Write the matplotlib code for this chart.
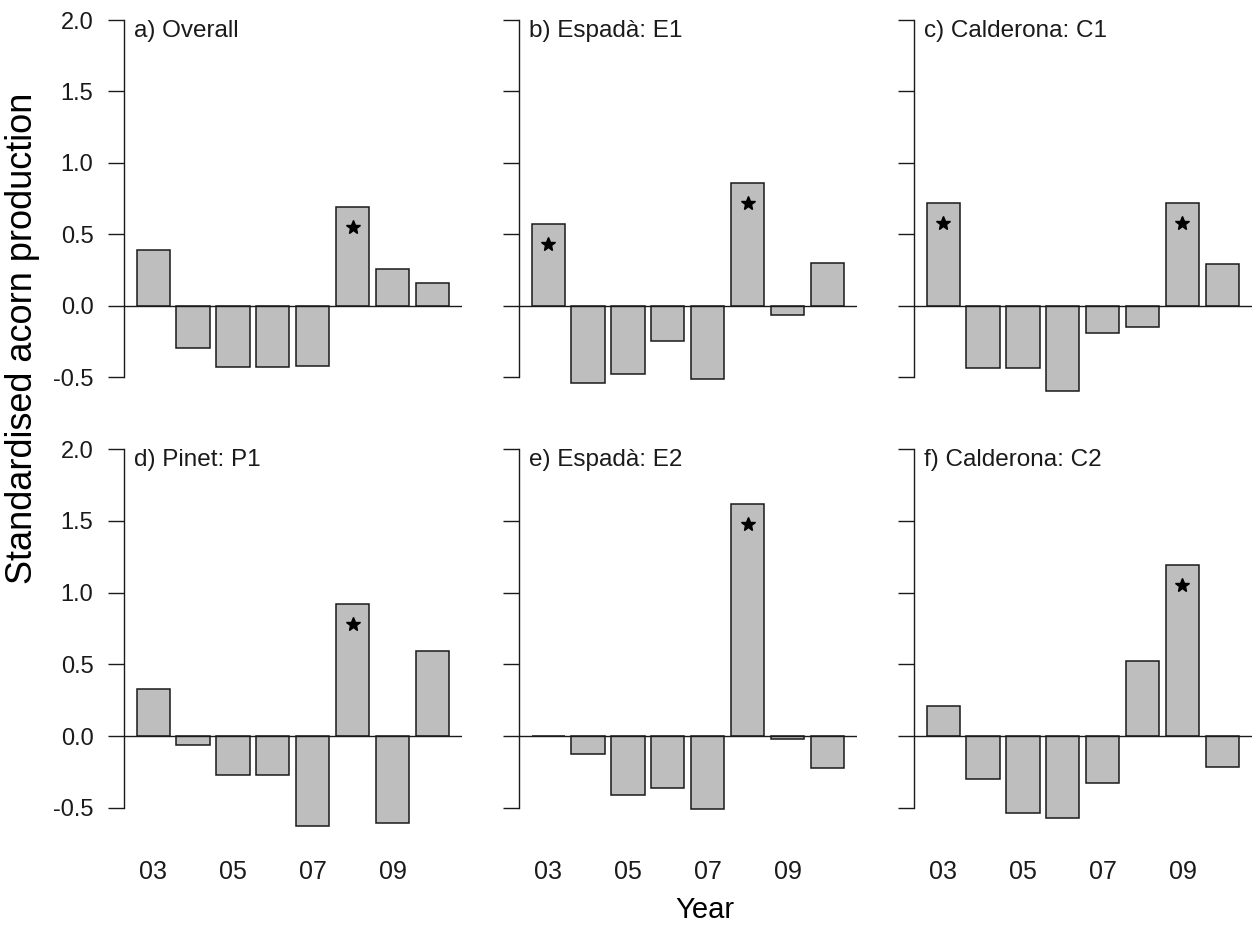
import matplotlib
matplotlib.use("Agg")
import matplotlib.pyplot as plt
import numpy as np

plt.rcParams["font.family"] = ["Liberation Sans", "DejaVu Sans"]

# ── data ──────────────────────────────────────────────────────────────────────
years = ["03", "04", "05", "06", "07", "08", "09", "10"]
shown_years = ["03", "05", "07", "09"]

overall      = [0.39, -0.30, -0.43, -0.43, -0.42, 0.69, 0.26, 0.16]
espada_e1    = [0.57, -0.545, -0.48, -0.25, -0.515, 0.86, -0.065, 0.30]
calderona_c1 = [0.72, -0.44, -0.44, -0.60, -0.19, -0.15, 0.72, 0.295]
pinet_p1     = [0.33, -0.065, -0.27, -0.27, -0.63, 0.92, -0.605, 0.59]
espada_e2    = [0.0, -0.125, -0.41, -0.36, -0.51, 1.62, -0.02, -0.225]
calderona_c2 = [0.21, -0.30, -0.54, -0.575, -0.33, 0.52, 1.19, -0.215]

titles = ["a) Overall", "b) Espadà: E1", "c) Calderona: C1",
          "d) Pinet: P1", "e) Espadà: E2", "f) Calderona: C2"]
series = [overall, espada_e1, calderona_c1, pinet_p1, espada_e2, calderona_c2]
# years flagged with an asterisk (masting years)
starred = [["08"], ["03", "08"], ["03", "09"], ["08"], ["08"], ["09"]]

# ── layout (R barplot look) ───────────────────────────────────────────────────
W, H = 1253, 927
BAR_FILL = "#BEBEBE"
INK = "#1a1a1a"
XLIM = (-0.176, 9.976)
YLIM = (-0.7, 2.05)

col_left = [124, 519, 914]
col_w = 337.5
row_box = [(12.9, 405.6), (442.1, 836.4)]   # top / bottom pixel of each row

fig = plt.figure(figsize=(W / 100, H / 100), dpi=100)
fig.patch.set_facecolor("white")

x = 0.7 + 1.2 * np.arange(len(years))

for k, (vals, title, stars) in enumerate(zip(series, titles, starred)):
    r, c = divmod(k, 3)
    top, bot = row_box[r]
    ax = fig.add_axes([col_left[c] / W, 1 - bot / H, col_w / W, (bot - top) / H])
    ax.set_xlim(*XLIM)
    ax.set_ylim(*YLIM)
    ax.patch.set_alpha(0)

    ax.bar(x, vals, width=1.0, color=BAR_FILL, edgecolor=INK, linewidth=1.1, zorder=2)
    ax.axhline(0, color=INK, lw=1.0, zorder=3)

    for yr in stars:
        i = years.index(yr)
        ax.plot(x[i], vals[i] - 0.14, marker="*", ms=10, color="black",
                mec="black", zorder=4)

    ax.text(0.12, 1.88, title, fontsize=17.5, color=INK, va="baseline", ha="left")

    for s in ("top", "right", "bottom"):
        ax.spines[s].set_visible(False)
    ax.spines["left"].set_bounds(-0.5, 2.0)
    ax.spines["left"].set_color(INK)
    ax.spines["left"].set_linewidth(1.0)

    ax.set_yticks(np.arange(-0.5, 2.01, 0.5))
    ax.tick_params(axis="y", length=11.5, width=1.0, color=INK, pad=10.5,
                   labelsize=17, labelcolor=INK)
    if c == 0:
        ax.set_yticklabels([f"{v:.1f}" for v in np.arange(-0.5, 2.01, 0.5)])
    else:
        ax.set_yticklabels([])

    if r == 1:
        ax.set_xticks([x[years.index(y)] for y in shown_years])
        ax.set_xticklabels(shown_years)
        ax.tick_params(axis="x", length=0, pad=17, labelsize=18, labelcolor=INK)
    else:
        ax.set_xticks([])

fig.text(23 / W, 1 - 338 / H, "Standardised acorn production", rotation=90,
         fontsize=26, ha="center", va="center", color="black")
fig.text(705 / W, 1 - 910 / H, "Year", fontsize=21, ha="center", va="center",
         color="black")

fig.savefig("out.png", dpi=100)
